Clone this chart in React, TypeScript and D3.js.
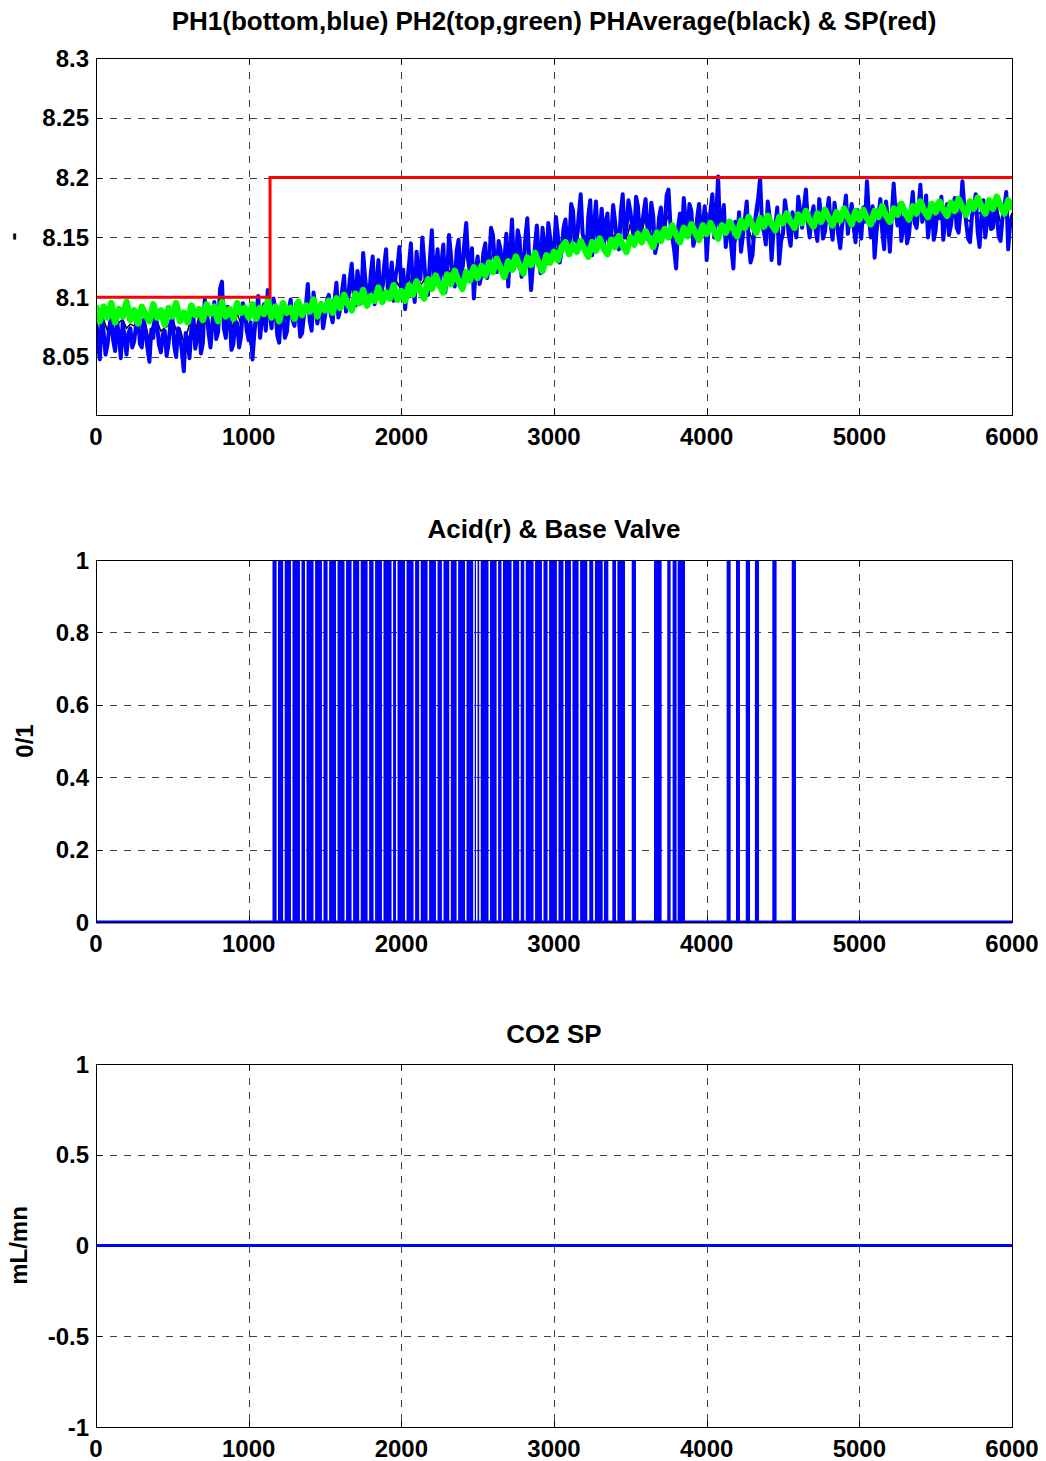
import React from 'react';
import * as d3 from 'd3';

// ---------- DATA ----------
const xTicks = [0, 1000, 2000, 3000, 4000, 5000, 6000];

// PH1 (bottom probe, blue), sampled every 12.5 time units from 0 to 6000
const ph1 = [
  8.078, 8.062, 8.048, 8.084, 8.071, 8.052, 8.060, 8.075, 8.082, 8.064,
  8.055, 8.080, 8.068, 8.049, 8.079, 8.066, 8.052, 8.070, 8.074, 8.058,
  8.063, 8.077, 8.085, 8.061, 8.058, 8.081, 8.070, 8.057, 8.046, 8.073,
  8.066, 8.088, 8.077, 8.060, 8.054, 8.069, 8.072, 8.051, 8.061, 8.078,
  8.083, 8.059, 8.050, 8.074, 8.068, 8.055, 8.038, 8.070, 8.064, 8.049,
  8.075, 8.086, 8.057, 8.067, 8.079, 8.053, 8.062, 8.098, 8.088, 8.070,
  8.058, 8.079, 8.096, 8.065, 8.071, 8.107, 8.113, 8.074, 8.066, 8.092,
  8.084, 8.056, 8.061, 8.080, 8.078, 8.058, 8.067, 8.095, 8.089, 8.072,
  8.064,
  8.079, 8.048, 8.070, 8.087, 8.101, 8.066, 8.083, 8.094, 8.072, 8.106,
  8.088, 8.074, 8.099, 8.090, 8.068, 8.062, 8.091, 8.085, 8.066, 8.071,
  8.089, 8.098, 8.081, 8.076, 8.095, 8.089, 8.067, 8.070, 8.085, 8.093,
  8.111, 8.080, 8.072, 8.104, 8.090, 8.078, 8.088, 8.095, 8.074, 8.084,
  8.097, 8.102, 8.086, 8.079, 8.098, 8.112, 8.083, 8.090, 8.106, 8.118,
  8.088, 8.097, 8.115, 8.128, 8.104, 8.093, 8.122, 8.110, 8.095, 8.137,
  8.117, 8.101, 8.096, 8.120, 8.134, 8.094, 8.112, 8.131, 8.099, 8.108,
  8.126, 8.140, 8.103, 8.112, 8.129, 8.097, 8.118, 8.126, 8.142, 8.106,
  8.123, 8.090, 8.111, 8.127, 8.145, 8.108, 8.096, 8.138, 8.119, 8.115,
  8.150, 8.130, 8.107, 8.102, 8.133, 8.156, 8.113, 8.121, 8.140, 8.112,
  8.128, 8.144, 8.104, 8.118, 8.152, 8.135, 8.116, 8.109, 8.139, 8.148,
  8.114, 8.126, 8.145, 8.162, 8.131, 8.120, 8.141, 8.099, 8.123, 8.134,
  8.111, 8.118, 8.137, 8.145, 8.116, 8.127, 8.158, 8.152, 8.129, 8.121,
  8.147, 8.140, 8.119, 8.130, 8.153, 8.109, 8.138, 8.165, 8.124, 8.132,
  8.156, 8.148, 8.117, 8.125, 8.150, 8.166, 8.133, 8.106, 8.128, 8.142,
  8.160, 8.135, 8.120, 8.158, 8.141, 8.128, 8.162, 8.150, 8.131, 8.138,
  8.167, 8.152, 8.129, 8.138, 8.158, 8.165, 8.140, 8.144, 8.178, 8.172,
  8.141, 8.150, 8.169, 8.186, 8.153, 8.147, 8.136, 8.168, 8.181, 8.135,
  8.160, 8.180, 8.146, 8.155, 8.174, 8.142, 8.163, 8.170, 8.139, 8.151,
  8.177, 8.163, 8.148, 8.140, 8.171, 8.186, 8.150, 8.158, 8.181, 8.172,
  8.158, 8.149, 8.184, 8.176, 8.147, 8.160, 8.171, 8.182, 8.156, 8.152,
  8.179, 8.168, 8.137, 8.144, 8.166, 8.175, 8.151, 8.158, 8.185, 8.190,
  8.161, 8.150, 8.139, 8.124, 8.158, 8.170, 8.148, 8.183, 8.163, 8.155,
  8.178, 8.172, 8.143, 8.149, 8.166, 8.178, 8.152, 8.160, 8.176, 8.131,
  8.159, 8.172, 8.186, 8.150, 8.167, 8.201, 8.154, 8.165, 8.177, 8.142,
  8.158, 8.160, 8.140, 8.124, 8.163, 8.150, 8.171, 8.138, 8.152, 8.165,
  8.180, 8.146, 8.129, 8.135, 8.158, 8.172, 8.183, 8.199, 8.161, 8.155,
  8.144, 8.180, 8.167, 8.131, 8.154, 8.160, 8.175, 8.128, 8.147, 8.153,
  8.181, 8.170, 8.152, 8.143, 8.171, 8.162, 8.150, 8.184, 8.172, 8.158,
  8.176, 8.190, 8.163, 8.150, 8.168, 8.176, 8.157, 8.147, 8.182, 8.168,
  8.149, 8.155, 8.170, 8.183, 8.161, 8.148, 8.179, 8.165, 8.152, 8.141,
  8.160, 8.172, 8.185, 8.153, 8.167, 8.178, 8.159, 8.146, 8.173, 8.160,
  8.149, 8.175, 8.163, 8.197, 8.170, 8.150, 8.176, 8.133, 8.155, 8.168,
  8.182, 8.155, 8.140, 8.180, 8.164, 8.138, 8.169, 8.195, 8.172, 8.160,
  8.178, 8.147, 8.159, 8.172, 8.145, 8.152, 8.170, 8.188, 8.162, 8.158,
  8.174, 8.194, 8.163, 8.170, 8.185, 8.150, 8.166, 8.177, 8.148, 8.156,
  8.179, 8.166, 8.184, 8.148, 8.165, 8.178, 8.152, 8.160, 8.174, 8.183,
  8.158, 8.154, 8.171, 8.197, 8.176, 8.162, 8.149, 8.146, 8.168, 8.174,
  8.186, 8.155, 8.142, 8.168, 8.181, 8.150, 8.164, 8.180, 8.157, 8.158,
  8.175, 8.170, 8.151, 8.147, 8.166, 8.175, 8.188, 8.140, 8.161, 8.168,
];

// PH2 (top probe, green), sampled every 25 time units from 0 to 6000
const ph2 = [
  8.093, 8.080, 8.092, 8.083, 8.095, 8.079, 8.090, 8.084, 8.096, 8.081,
  8.089, 8.078, 8.092, 8.085, 8.080, 8.094, 8.083, 8.089, 8.077, 8.091,
  8.084, 8.095, 8.080, 8.087, 8.079, 8.093, 8.085, 8.090, 8.081, 8.094,
  8.086, 8.092, 8.080, 8.096, 8.084, 8.090, 8.082, 8.095, 8.087, 8.091,
  8.083,
  8.094, 8.082, 8.091, 8.086, 8.097, 8.083, 8.092, 8.080, 8.095, 8.087,
  8.091, 8.082, 8.096, 8.085, 8.093, 8.088, 8.098, 8.084, 8.094, 8.089,
  8.097, 8.087, 8.099, 8.091, 8.102, 8.094, 8.089, 8.103, 8.095, 8.106,
  8.093, 8.101, 8.097, 8.108, 8.096, 8.104, 8.099, 8.110, 8.098, 8.105,
  8.097, 8.110, 8.102, 8.113, 8.105, 8.099, 8.115, 8.107, 8.118, 8.110,
  8.104, 8.119, 8.111, 8.122, 8.113, 8.107, 8.121, 8.114, 8.125, 8.116,
  8.126, 8.118, 8.129, 8.121, 8.132, 8.124, 8.117, 8.130, 8.123, 8.134,
  8.126, 8.120, 8.133, 8.127, 8.137, 8.128, 8.122, 8.135, 8.129, 8.138,
  8.131, 8.142, 8.146, 8.136, 8.144, 8.138, 8.147, 8.140, 8.134, 8.146,
  8.139, 8.149, 8.141, 8.136, 8.148, 8.142, 8.151, 8.143, 8.138, 8.150,
  8.144, 8.153, 8.146, 8.155, 8.148, 8.142, 8.154, 8.147, 8.157, 8.150,
  8.160, 8.152, 8.146, 8.158, 8.151, 8.161, 8.154, 8.148, 8.160, 8.153,
  8.162, 8.155, 8.149, 8.160, 8.154, 8.163, 8.157, 8.151, 8.164, 8.158,
  8.167, 8.160, 8.154, 8.166, 8.159, 8.168, 8.161, 8.156, 8.167, 8.162,
  8.170, 8.163, 8.158, 8.169, 8.162, 8.172, 8.164, 8.159, 8.170, 8.163,
  8.173, 8.166, 8.160, 8.171, 8.164, 8.174, 8.167, 8.161, 8.172, 8.165,
  8.173, 8.166, 8.161, 8.172, 8.167, 8.176, 8.168, 8.163, 8.174, 8.169,
  8.178, 8.171, 8.165, 8.176, 8.170, 8.180, 8.172, 8.167, 8.178, 8.171,
  8.180, 8.173, 8.168, 8.179, 8.172, 8.182, 8.175, 8.169, 8.180, 8.174,
  8.183, 8.176, 8.170, 8.181, 8.174, 8.184, 8.176, 8.170, 8.181, 8.173,
];

// pH set point (red)
const spTimes = [0, 1140, 1140, 6000];
const spValues = [8.1, 8.1, 8.2, 8.2];

// Acid / base valve: intervals [on, off] where the valve is open (1)
const valveIntervals: [number, number][] = [
  [1156, 1183], [1192, 1226], [1236, 1277], [1287, 1336], [1346, 1369],
  [1379, 1425], [1435, 1480], [1490, 1517], [1527, 1572], [1582, 1628],
  [1638, 1674], [1684, 1724], [1734, 1779], [1789, 1818], [1828, 1873],
  [1883, 1936], [1946, 1965], [1975, 2024], [2034, 2080], [2090, 2117],
  [2127, 2172], [2182, 2227], [2237, 2266], [2276, 2314], [2324, 2362],
  [2372, 2417], [2427, 2471], [2481, 2489], [2499, 2510], [2520, 2571],
  [2581, 2624], [2634, 2656], [2666, 2722], [2732, 2772], [2782, 2805],
  [2815, 2866], [2876, 2921], [2931, 2958], [2968, 3019], [3029, 3062],
  [3072, 3111], [3121, 3161], [3171, 3218], [3231, 3257], [3268, 3319],
  [3327, 3356], [3382, 3406], [3415, 3465], [3509, 3537], [3655, 3705],
  [3742, 3764], [3777, 3803], [3810, 3858], [4131, 4157], [4192, 4218],
  [4256, 4284], [4316, 4343], [4430, 4458], [4557, 4585],
];
const valveTimes = [0, 6000];
const valveBase = [0, 0];

// CO2 set point
const co2Times = [0, 6000];
const co2Values = [0, 0];

const phTicks = [8.05, 8.1, 8.15, 8.2, 8.25, 8.3];
const phTickLabels = ['8.05', '8.1', '8.15', '8.2', '8.25', '8.3'];
const valveTicks = [0, 0.2, 0.4, 0.6, 0.8, 1];
const valveTickLabels = ['0', '0.2', '0.4', '0.6', '0.8', '1'];
const co2Ticks = [-1, -0.5, 0, 0.5, 1];
const co2TickLabels = ['-1', '-0.5', '0', '0.5', '1'];

// ---------- LAYOUT ----------
const W = 1046;
const H = 1461;
const LEFT = 96;
const RIGHT = 1012;
const FONT = "'Liberation Sans', Arial, Helvetica, sans-serif";
const FS = 24;
const TITLE_FS = 26;

const x = d3.scaleLinear().domain([0, 6000]).range([LEFT, RIGHT]);

type PanelProps = {
  top: number;
  bottom: number;
  domain: [number, number];
  ticks: number[];
  tickLabels: string[];
  title: string;
  titleY: number;
  ylabel: string;
  ylabelX: number;
  children: (y: d3.ScaleLinear<number, number>) => React.ReactNode;
};

function Panel(p: PanelProps) {
  const y = d3.scaleLinear().domain(p.domain).range([p.bottom, p.top]);
  const gridX = xTicks.filter((t) => t > 0 && t < 6000);
  const gridY = p.ticks.filter((t) => y(t) > p.top + 1 && y(t) < p.bottom - 1);
  const TL = 6;
  const clipId = 'clip' + p.top;
  return (
    <g>
      <defs>
        <clipPath id={clipId}>
          <rect x={LEFT} y={p.top - 2} width={RIGHT - LEFT + 1} height={p.bottom - p.top + 4} />
        </clipPath>
      </defs>
      {gridX.map((t) => (
        <line key={'gx' + t} x1={Math.round(x(t)) + 0.5} x2={Math.round(x(t)) + 0.5} y1={p.top} y2={p.bottom}
          stroke="#000" strokeWidth={1} strokeDasharray="7,7" strokeOpacity={0.75} />
      ))}
      {gridY.map((t) => (
        <line key={'gy' + t} x1={LEFT} x2={RIGHT} y1={Math.round(y(t)) + 0.5} y2={Math.round(y(t)) + 0.5}
          stroke="#000" strokeWidth={1} strokeDasharray="7,7" strokeOpacity={0.75} />
      ))}
      {xTicks.map((t) => (
        <g key={'tx' + t}>
          <line x1={Math.round(x(t)) + 0.5} x2={Math.round(x(t)) + 0.5} y1={p.bottom} y2={p.bottom - TL} stroke="#000" />
          <line x1={Math.round(x(t)) + 0.5} x2={Math.round(x(t)) + 0.5} y1={p.top} y2={p.top + TL} stroke="#000" />
        </g>
      ))}
      {p.ticks.map((t) => (
        <g key={'ty' + t}>
          <line x1={LEFT} x2={LEFT + TL} y1={Math.round(y(t)) + 0.5} y2={Math.round(y(t)) + 0.5} stroke="#000" />
          <line x1={RIGHT} x2={RIGHT - TL} y1={Math.round(y(t)) + 0.5} y2={Math.round(y(t)) + 0.5} stroke="#000" />
        </g>
      ))}
      <g clipPath={`url(#${clipId})`}>{p.children(y)}</g>
      <rect x={LEFT + 0.5} y={p.top + 0.5} width={RIGHT - LEFT} height={p.bottom - p.top} fill="none" stroke="#000" strokeWidth={1} />
      {xTicks.map((t) => (
        <text key={'lx' + t} x={x(t)} y={p.bottom + 30} textAnchor="middle" fontFamily={FONT} fontWeight="bold" fontSize={FS}>
          {t}
        </text>
      ))}
      {p.ticks.map((t, i) => (
        <text key={'ly' + t} x={LEFT - 7} y={y(t) + 8.5} textAnchor="end" fontFamily={FONT} fontWeight="bold" fontSize={FS}>
          {p.tickLabels[i]}
        </text>
      ))}
      <text x={(LEFT + RIGHT) / 2} y={p.titleY} textAnchor="middle" fontFamily={FONT} fontWeight="bold" fontSize={TITLE_FS}>
        {p.title}
      </text>
      <text transform={`translate(${p.ylabelX},${(p.top + p.bottom) / 2}) rotate(-90)`} textAnchor="middle"
        fontFamily={FONT} fontWeight="bold" fontSize={FS}>
        {p.ylabel}
      </text>
    </g>
  );
}

export default function App() {
  const t1 = ph1.map((_, i) => (i * 6000) / (ph1.length - 1));
  const t2 = ph2.map((_, i) => (i * 6000) / (ph2.length - 1));
  // PHAverage (black): mean of the two probes at the common sample times
  const phAvg = ph2.map((v, i) => (v + ph1[i * 2]) / 2);
  return (
    <svg width={W} height={H} style={{ position: 'absolute', left: 0, top: 0, background: '#fff' }}>
      <rect x={0} y={0} width={W} height={H} fill="#fff" />
      <Panel top={58} bottom={415} domain={[8.0015, 8.3]} ticks={phTicks} tickLabels={phTickLabels}
        title="PH1(bottom,blue) PH2(top,green) PHAverage(black) & SP(red)" titleY={30} ylabel="-" ylabelX={21}>
        {(y) => {
          const l1 = d3.line<number>().x((_, i) => x(t1[i])).y((v) => y(v));
          const l2 = d3.line<number>().x((_, i) => x(t2[i])).y((v) => y(v));
          const spLine = d3.line<number>().x((_, i) => x(spTimes[i])).y((v) => y(v));
          return (
            <>
              <path d={l2(phAvg) || ''} fill="none" stroke="#000" strokeWidth={1.5} />
              <path d={l1(ph1) || ''} fill="none" stroke="#0000ff" strokeWidth={4} strokeLinejoin="round" />
              <path d={l2(ph2) || ''} fill="none" stroke="#00ff00" strokeWidth={6.5} strokeLinejoin="round" />
              <path d={spLine(spValues) || ''} fill="none" stroke="#ff0000" strokeWidth={3} />
            </>
          );
        }}
      </Panel>
      <Panel top={560} bottom={922} domain={[0, 1]} ticks={valveTicks} tickLabels={valveTickLabels}
        title="Acid(r) & Base Valve" titleY={538} ylabel="0/1" ylabelX={33}>
        {(y) => {
          const base = d3.line<number>().x((_, i) => x(valveTimes[i])).y((v) => y(v));
          return (
            <>
              {valveIntervals.map(([a, b]) => (
                <rect key={a} x={x(a)} y={y(1)} width={x(b) - x(a)} height={y(0) - y(1)} fill="#0000ff" />
              ))}
              <path d={base(valveBase) || ''} fill="none" stroke="#0000ff" strokeWidth={3} />
            </>
          );
        }}
      </Panel>
      <Panel top={1064} bottom={1427} domain={[-1, 1]} ticks={co2Ticks} tickLabels={co2TickLabels}
        title="CO2 SP" titleY={1043} ylabel="mL/mn" ylabelX={27}>
        {(y) => {
          const l = d3.line<number>().x((_, i) => x(co2Times[i])).y((v) => y(v));
          return <path d={l(co2Values) || ''} fill="none" stroke="#0000ff" strokeWidth={3} />;
        }}
      </Panel>
    </svg>
  );
}
